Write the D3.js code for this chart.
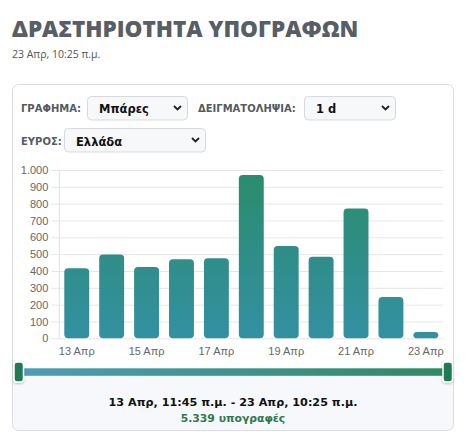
<!DOCTYPE html>
<html><head><meta charset="utf-8">
<script src="https://cdn.jsdelivr.net/npm/d3@7"></script>
<style>
html,body{margin:0;padding:0;background:#fff;}
svg{display:block;}
</style></head>
<body>
<svg id="c" width="468" height="432"></svg>
<script>
// ---- data ----
const days = ["13 Απρ","14 Απρ","15 Απρ","16 Απρ","17 Απρ","18 Απρ","19 Απρ","20 Απρ","21 Απρ","22 Απρ","23 Απρ"];
const signatures = [416, 498, 423, 470, 476, 970, 548, 484, 771, 246, 37];
const yTicks = [0,100,200,300,400,500,600,700,800,900,1000];
const xTickLabels = ["13 Απρ","15 Απρ","17 Απρ","19 Απρ","21 Απρ","23 Απρ"];
const titleText = "ΔΡΑΣΤΗΡΙΟΤΗΤΑ ΥΠΟΓΡΑΦΩΝ";
const updatedText = "23 Απρ, 10:25 π.μ.";
const rangeText = "13 Απρ, 11:45 π.μ. - 23 Απρ, 10:25 π.μ.";
const controls = [
  {label:"ΓΡΑΦΗΜΑ:", value:"Μπάρες"},
  {label:"ΔΕΙΓΜΑΤΟΛΗΨΙΑ:", value:"1 d"},
  {label:"ΕΥΡΟΣ:", value:"Ελλάδα"}
];

const svg = d3.select("#c");
const defs = svg.append("defs");
const fmt = d3.formatLocale({decimal:",", thousands:".", grouping:[3], currency:["","€"]}).format(",");

// gradients
const barGrad = defs.append("linearGradient").attr("id","barGrad")
  .attr("gradientUnits","userSpaceOnUse").attr("x1",0).attr("x2",0).attr("y1",170).attr("y2",338);
barGrad.append("stop").attr("offset","0%").attr("stop-color","#2a8c6c");
barGrad.append("stop").attr("offset","100%").attr("stop-color","#3390a2");
const trackGrad = defs.append("linearGradient").attr("id","trackGrad");
trackGrad.append("stop").attr("offset","0%").attr("stop-color","#4f9db8");
trackGrad.append("stop").attr("offset","100%").attr("stop-color","#2e8a62");
const sh = defs.append("filter").attr("id","sh").attr("x","-50%").attr("y","-50%").attr("width","200%").attr("height","200%");
sh.append("feDropShadow").attr("dx",0).attr("dy",1).attr("stdDeviation",1).attr("flood-color","#000").attr("flood-opacity",0.25);
const clip = defs.append("clipPath").attr("id","cardClip");
clip.append("rect").attr("x",12.5).attr("y",84.5).attr("width",441).attr("height",346).attr("rx",6);

// title
svg.append("text").attr("x",12).attr("y",36.5)
  .style("font-family","'Open Sans'").style("font-weight",800).style("font-size","22.5px")
  .attr("fill","#575e66").text(titleText);
svg.append("text").attr("x",12).attr("y",57.5)
  .style("font-family","'Open Sans'").style("font-size","10.5px").attr("fill","#555").text(updatedText);

// card
svg.append("rect").attr("x",12.5).attr("y",84.5).attr("width",441).attr("height",346).attr("rx",6)
  .attr("fill","#fff");
svg.append("rect").attr("clip-path","url(#cardClip)").attr("x",12).attr("y",376).attr("width",442).attr("height",60)
  .attr("fill","#f6f8fb");
svg.append("rect").attr("x",12.5).attr("y",84.5).attr("width",441).attr("height",346).attr("rx",6)
  .attr("fill","none").attr("stroke","#dadde2");

// controls
const ctrlPos = [
  {lx:21, by:112, sx:87.5, sw:100, sy:96.5},
  {lx:198, by:112, sx:304.5, sw:91, sy:96.5},
  {lx:21, by:145, sx:64.5, sw:141, sy:128.5}
];
controls.forEach((c,i)=>{
  const p = ctrlPos[i];
  svg.append("text").attr("x",p.lx).attr("y",p.by)
    .style("font-family","'DejaVu Sans'").style("font-weight","bold").style("font-size","10px")
    .attr("fill","#555b63").text(c.label);
  svg.append("rect").attr("x",p.sx).attr("y",p.sy).attr("width",p.sw).attr("height",23.5).attr("rx",4)
    .attr("fill","#f7f8fa").attr("stroke","#d6d9de");
  svg.append("text").attr("x",p.sx+11.5).attr("y",p.by+0.5)
    .style("font-family","'DejaVu Sans'").style("font-weight","bold").style("font-size","11.5px")
    .attr("fill","#111").text(c.value);
  const cx = p.sx+p.sw-10, cy = p.sy+11.5;
  svg.append("path").attr("d",`M${cx-3.5},${cy-2} L${cx},${cy+1.5} L${cx+3.5},${cy-2}`)
    .attr("fill","none").attr("stroke","#222").attr("stroke-width",1.8);
});

// chart
const x = d3.scaleBand().domain(days).range([59.3,443.3]).paddingInner(0.286).paddingOuter(0.143);
const y = d3.scaleLinear().domain([0,1000]).range([338.3,170]);

const yAxis = svg.append("g").attr("transform","translate(59.3,0)")
  .call(d3.axisLeft(y).tickValues(yTicks).tickFormat(d=>fmt(d)).tickSize(8).tickPadding(3));
yAxis.select(".domain").attr("stroke","#e2e2e2").attr("d",`M0,${y(0)}V${y(1000)}`);
yAxis.selectAll(".tick line").attr("stroke","#e6e6e6").attr("x2",-8).attr("x1",443.3-59.3);
yAxis.selectAll(".tick text").attr("fill","#666").style("font-family","'Liberation Sans'").style("font-size","11px");

svg.append("g").selectAll("rect").data(signatures).join("rect")
  .attr("x",(d,i)=>x(days[i])).attr("width",x.bandwidth())
  .attr("y",d=>y(d)).attr("height",d=>y(0)-y(d)).attr("rx",4)
  .attr("fill","url(#barGrad)");

const xAxis = svg.append("g").attr("transform",`translate(0,${y(0)})`)
  .call(d3.axisBottom(x).tickValues(xTickLabels).tickSize(0).tickPadding(9));
xAxis.select(".domain").remove();
xAxis.selectAll(".tick text").attr("fill","#666").style("font-family","'Liberation Sans'").style("font-size","11px");

// slider
svg.append("rect").attr("x",18).attr("y",368.3).attr("width",430).attr("height",7.5).attr("fill","url(#trackGrad)");
[14, 443].forEach(hx=>{
  svg.append("rect").attr("x",hx).attr("y",362).attr("width",9.5).attr("height",20).attr("rx",3)
    .attr("fill","#237a54").attr("stroke","#fff").attr("stroke-width",1.5).attr("filter","url(#sh)");
});

// footer texts
svg.append("text").attr("x",233).attr("y",405.5).attr("text-anchor","middle")
  .style("font-family","'DejaVu Sans'").style("font-weight","bold").style("font-size","11.2px")
  .attr("fill","#111").text(rangeText);
svg.append("text").attr("x",233).attr("y",421.5).attr("text-anchor","middle")
  .style("font-family","'DejaVu Sans'").style("font-weight","bold").style("font-size","10.8px")
  .attr("fill","#2b7a4f").text(fmt(d3.sum(signatures)) + " υπογραφές");
</script>
</body></html>
